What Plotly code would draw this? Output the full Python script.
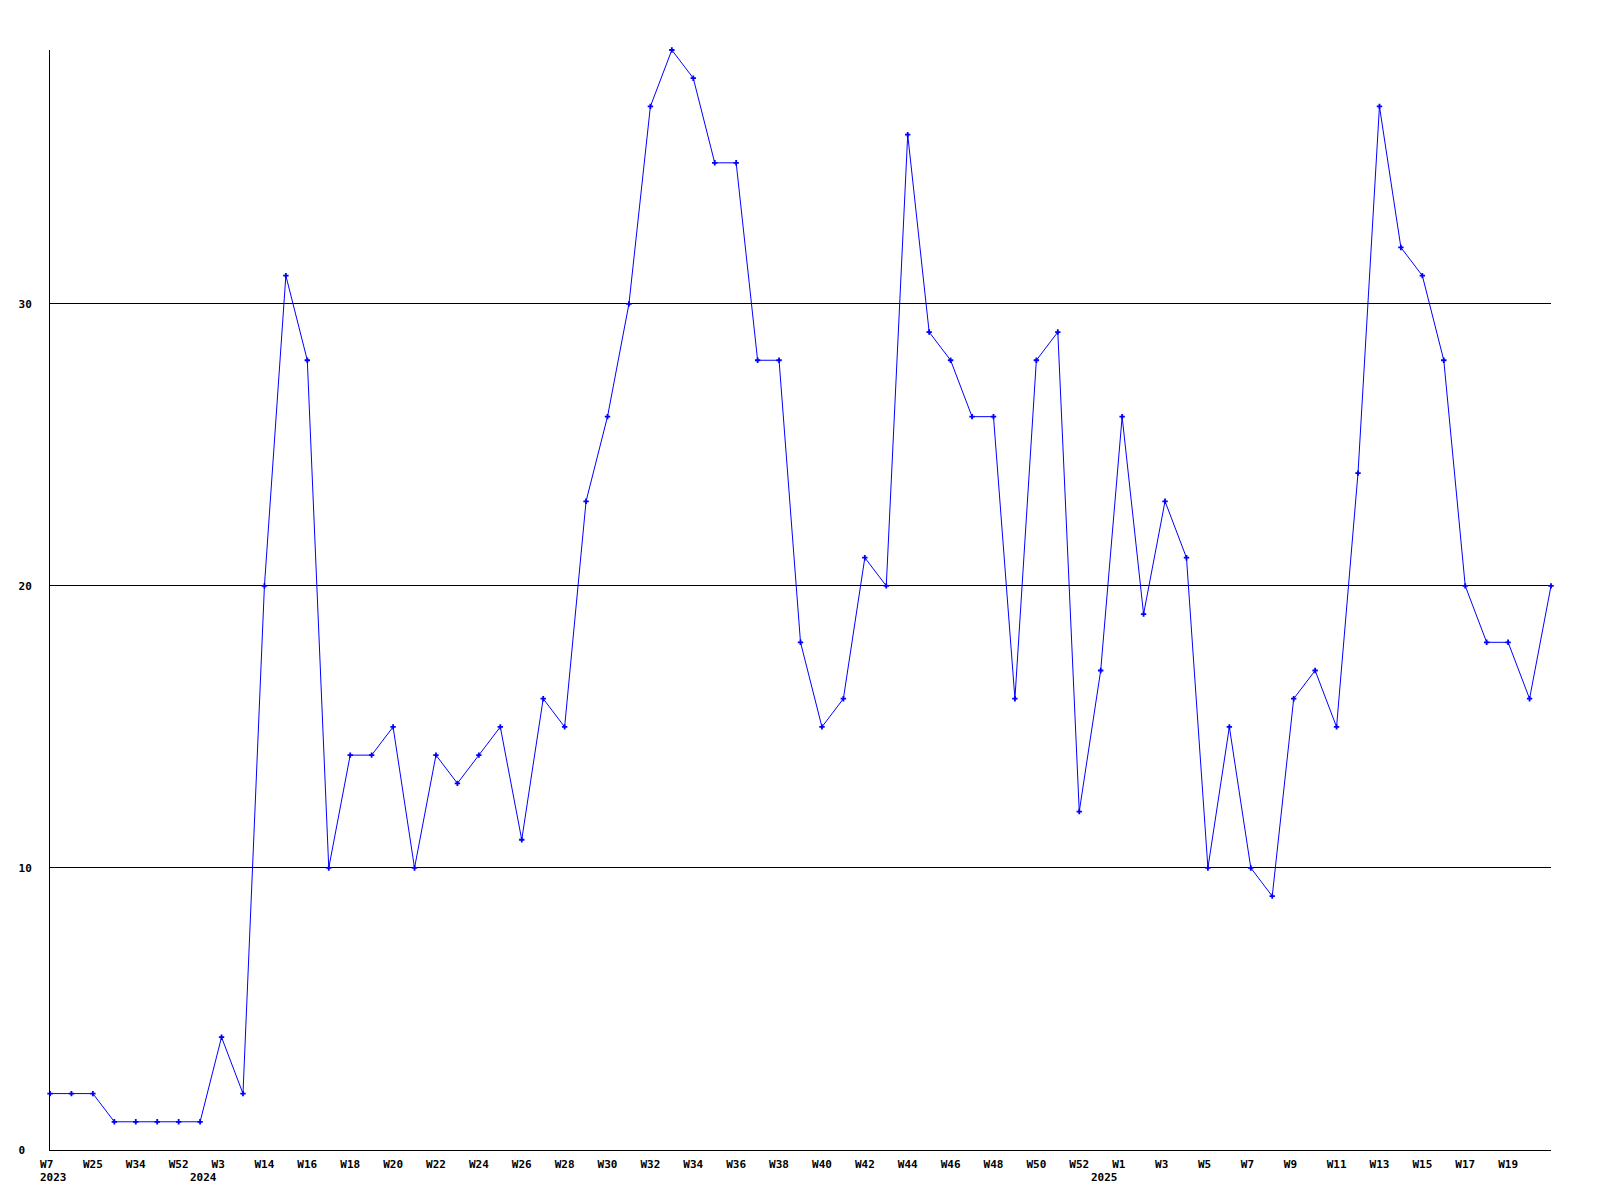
import plotly.graph_objects as go

weeks = ["W7", "W21", "W25", "W30", "W34", "W44", "W52", "W1",
         "W3", "W10", "W14", "W15", "W16", "W17", "W18", "W19",
         "W20", "W21", "W22", "W23", "W24", "W25", "W26", "W27",
         "W28", "W29", "W30", "W31", "W32", "W33", "W34", "W35",
         "W36", "W37", "W38", "W39", "W40", "W41", "W42", "W43",
         "W44", "W45", "W46", "W47", "W48", "W49", "W50", "W51",
         "W52", "W0", "W1", "W2", "W3", "W4", "W5", "W6",
         "W7", "W8", "W9", "W10", "W11", "W12", "W13", "W14",
         "W15", "W16", "W17", "W18", "W19", "W20", "W21"]

values = [2, 2, 2, 1, 1, 1, 1, 1, 4, 2,
          20, 31, 28, 10, 14, 14, 15, 10, 14, 13,
          14, 15, 11, 16, 15, 23, 26, 30, 37, 39,
          38, 35, 35, 28, 28, 18, 15, 16, 21, 20,
          36, 29, 28, 26, 26, 16, 28, 29, 12, 17,
          26, 19, 23, 21, 10, 15, 10, 9, 16, 17,
          15, 24, 37, 32, 31, 28, 20, 18, 18, 16, 20]

year_labels = ["2023", "2024", "2025"]
year_index = [0, 7, 49]

y_ticks = [0, 10, 20, 30]

idx = list(range(len(values)))
tick_idx = idx[0:69:2]
tick_txt = [weeks[i].ljust(3) for i in tick_idx]

font = dict(family="DejaVu Sans Mono", size=11, color="black", weight="bold")

fig = go.Figure()
fig.add_trace(go.Scatter(
    x=idx, y=values, mode="lines+markers",
    line=dict(color="#0000FF", width=1),
    marker=dict(symbol="cross", size=4.5, color="#0000FF", line=dict(width=0)),
    cliponaxis=False,
))

for lbl, i in zip(year_labels, year_index):
    fig.add_annotation(x=i, y=0, xref="x", yref="paper", text=lbl,
                       showarrow=False, xanchor="left", yanchor="middle",
                       xshift=-12, yshift=-27, font=font)

fig.update_layout(
    width=1584, height=1184, autosize=False,
    margin=dict(l=42, r=41, t=42, b=42, pad=0),
    paper_bgcolor="white", plot_bgcolor="white",
    showlegend=False, font=font,
)
fig.update_xaxes(
    range=[0, 70], showgrid=False, zeroline=False,
    showline=True, linecolor="black", linewidth=1,
    tickmode="array", tickvals=tick_idx, ticktext=tick_txt,
    ticks="", ticklabelstandoff=4, tickangle=0, tickfont=font,
)
fig.update_yaxes(
    range=[0, 39], showgrid=True, gridcolor="black", gridwidth=1,
    zeroline=False, showline=True, linecolor="black", linewidth=1,
    tickmode="array", tickvals=y_ticks, ticktext=[str(v).rjust(2) if v else "0 " for v in y_ticks],
    ticks="", ticklabelstandoff=15, tickfont=font,
)

fig.write_html("out.html")
